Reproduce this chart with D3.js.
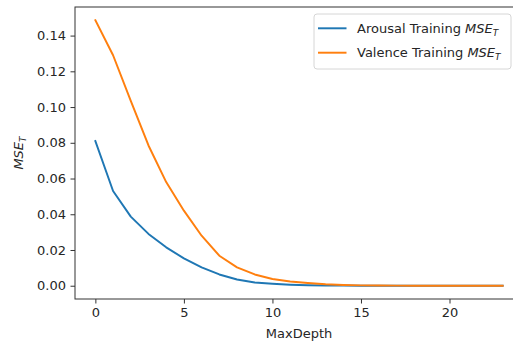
<!DOCTYPE html>
<html>
<head>
<meta charset="utf-8">
<script src="https://cdn.jsdelivr.net/npm/d3@7"></script>
<style>
  body { margin: 0; background: #fff; }
  svg { display: block; font-family: "DejaVu Sans", sans-serif; }
</style>
</head>
<body>
<script>
// MaxDepth values on the x axis
const depths = [0, 1, 2, 3, 4, 5, 6, 7, 8, 9, 10, 11, 12, 13, 14, 15, 16, 17, 18, 19, 20, 21, 22, 23];

// training MSE
const arousal = [0.081, 0.053, 0.0387, 0.029, 0.0215, 0.0153, 0.0103, 0.0063, 0.0035, 0.0018,
                 0.0011, 0.0006, 0.0003, 0.00015, 0.00008, 0.00004, 0.00002, 0.00001, 0, 0, 0, 0, 0, 0];
const valence = [0.1486, 0.129, 0.1035, 0.0785, 0.058, 0.042, 0.028, 0.0168, 0.0103, 0.0063,
                 0.0038, 0.0024, 0.0015, 0.0008, 0.0004, 0.0002, 0.0001, 0.00005, 0.00002, 0.00001, 0, 0, 0, 0];

const xTicks = [0, 5, 10, 15, 20];
const yTicks = [0, 0.02, 0.04, 0.06, 0.08, 0.10, 0.12, 0.14];

const seriesNames = ["Arousal Training ", "Valence Training "];
const colors = ["#1f77b4", "#ff7f0e"];

const W = 513, H = 342;
const mLeft = 75, mRight = 523, mTop = 7, mBottom = 299;
const fs = "13px", fsSub = "9px";

const svg = d3.select("body").append("svg")
    .attr("width", W)
    .attr("height", H);

svg.append("rect").attr("width", W).attr("height", H).attr("fill", "#fff");

const x = d3.scaleLinear().domain([-1.15, 24.15]).range([mLeft, mRight]);
const y = d3.scaleLinear().domain([-0.00743, 0.156]).range([mBottom, mTop]);

// axes
const xAxis = svg.append("g")
    .attr("transform", `translate(0,${mBottom})`)
    .call(d3.axisBottom(x).tickValues(xTicks).tickSize(4.5).tickPadding(4.5).tickFormat(d3.format("d")));
const yAxis = svg.append("g")
    .attr("transform", `translate(${mLeft},0)`)
    .call(d3.axisLeft(y).tickValues(yTicks).tickSize(4.5).tickPadding(4.5).tickFormat(d3.format(".2f")));

[xAxis, yAxis].forEach(g => {
    g.select(".domain").remove();
    g.selectAll(".tick line").attr("stroke", "#333").attr("stroke-width", 1);
    g.selectAll(".tick text").attr("fill", "#262626").style("font-size", fs)
        .style("font-family", "DejaVu Sans");
});

// frame
svg.append("rect")
    .attr("x", mLeft).attr("y", mTop)
    .attr("width", mRight - mLeft).attr("height", mBottom - mTop)
    .attr("fill", "none").attr("stroke", "#333").attr("stroke-width", 1);

// lines
const line = d3.line()
    .x((d, i) => x(depths[i]))
    .y(d => y(d));

[arousal, valence].forEach((s, i) => {
    svg.append("path")
        .datum(s)
        .attr("d", line)
        .attr("fill", "none")
        .attr("stroke", colors[i])
        .attr("stroke-width", 1.95)
        .attr("stroke-linejoin", "round")
        .attr("stroke-linecap", "square");
});

// axis labels
svg.append("text")
    .attr("x", (mLeft + mRight) / 2)
    .attr("y", 337.5)
    .attr("text-anchor", "middle")
    .attr("fill", "#262626")
    .style("font-size", fs)
    .text("MaxDepth");

const yl = svg.append("text")
    .attr("transform", `translate(22.5,${(mTop + mBottom) / 2}) rotate(-90)`)
    .attr("text-anchor", "middle")
    .attr("fill", "#262626")
    .style("font-size", fs);
yl.append("tspan").style("font-style", "italic").text("MSE");
yl.append("tspan").attr("dy", 3).style("font-style", "italic").style("font-size", fsSub).text("T");

// legend
const lg = svg.append("g");
lg.append("rect")
    .attr("x", 314).attr("y", 14)
    .attr("width", 197).attr("height", 55)
    .attr("rx", 3)
    .attr("fill", "#fff").attr("fill-opacity", 0.8)
    .attr("stroke", "#d6d6d6").attr("stroke-width", 1);

seriesNames.forEach((name, i) => {
    const yy = 28.3 + i * 24.4;
    lg.append("line")
        .attr("x1", 318).attr("x2", 346.5)
        .attr("y1", yy).attr("y2", yy)
        .attr("stroke", colors[i]).attr("stroke-width", 1.95);
    const t = lg.append("text")
        .attr("x", 357).attr("y", yy + 4.5)
        .attr("fill", "#262626")
        .style("font-size", fs);
    t.append("tspan").text(name);
    t.append("tspan").style("font-style", "italic").text("MSE");
    t.append("tspan").attr("dy", 3).style("font-style", "italic").style("font-size", fsSub).text("T");
});
</script>
</body>
</html>
